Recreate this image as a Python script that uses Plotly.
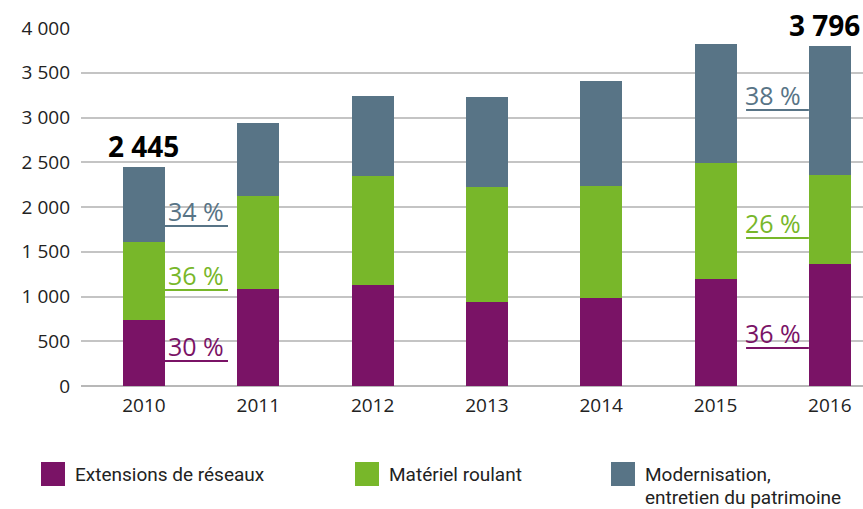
"""Investissements par categorie, 2010-2016 (barres empilees)."""

import plotly.graph_objects as go

years = [2010, 2011, 2012, 2013, 2014, 2015, 2016]
extensions = [733, 1084, 1128, 939, 983, 1196, 1367]
materiel = [880, 1039, 1218, 1284, 1252, 1296, 987]
modernisation = [832, 816, 894, 1006, 1173, 1329, 1442]

series_names = ["Extensions de réseaux", "Matériel roulant", "Modernisation,"]
legend_second_line = "entretien du patrimoine"
colors = ["#7a1366", "#78b72a", "#587486"]

total_labels = {2010: "2 445", 2016: "3 796"}
# (annee, serie, texte) pour les parts en %
share_labels = [
    (2010, 2, "34 %"), (2010, 1, "36 %"), (2010, 0, "30 %"),
    (2016, 2, "38 %"), (2016, 1, "26 %"), (2016, 0, "36 %"),
]

FONT = "Open Sans"
LEGEND_FONT = "Roboto, sans-serif"
W, H = 863, 509
L, R, T, B = 81, 0, 28, 123
BAR_W = 0.367

fig = go.Figure()
for name, vals, col in zip(series_names, [extensions, materiel, modernisation], colors):
    fig.add_trace(go.Bar(
        x=years, y=vals, name=name, marker_color=col,
        marker_line_width=0, width=BAR_W, showlegend=False,
    ))

totals = [a + b + c for a, b, c in zip(extensions, materiel, modernisation)]
for yr, txt in total_labels.items():
    i = years.index(yr)
    fig.add_annotation(
        x=yr, y=totals[i], text=f"<b>{txt}</b>", showarrow=False,
        yanchor="bottom", yshift=0, xshift=-5 if yr == 2016 else 0,
        font=dict(family=FONT, size=28, color="#000000"),
    )

# position verticale des lignes de soulignement (unites de l'axe)
line_y = {(2010, 2): 1788, (2010, 1): 1073, (2010, 0): 279,
          (2016, 2): 3084, (2016, 1): 1654, (2016, 0): 425}
for yr, s, txt in share_labels:
    if yr == years[0]:
        x0, x1 = yr + BAR_W / 2, yr + 0.735
    else:
        x0, x1 = yr - 0.733, yr - BAR_W / 2
    y = line_y[(yr, s)]
    fig.add_shape(type="line", x0=x0, x1=x1, y0=y, y1=y,
                  line=dict(color=colors[s], width=2), layer="above")
    fig.add_annotation(
        x=x0, y=y, text=txt, showarrow=False, xanchor="left", yanchor="bottom",
        xshift=1 if yr == years[0] else -3, yshift=-4,
        font=dict(family=FONT, size=25, color=colors[s]),
    )

# legende manuelle (coordonnees pixel -> paper)
pw, ph = W - L - R, H - T - B


def px(x):
    return (x - L) / pw


def py(y):
    return (H - B - y) / ph


legend_x = [41, 355, 611]
for xs, name, col in zip(legend_x, series_names, colors):
    fig.add_shape(type="rect", xref="paper", yref="paper",
                  x0=px(xs), x1=px(xs + 24), y0=py(462), y1=py(486),
                  fillcolor=col, line_width=0)
    fig.add_annotation(xref="paper", yref="paper", x=px(xs + 32), y=py(474),
                       text=name, showarrow=False, xanchor="left", yanchor="middle",
                       font=dict(family=LEGEND_FONT, size=19, color="#222222"))
fig.add_annotation(xref="paper", yref="paper", x=px(legend_x[2] + 32), y=py(497),
                   text=legend_second_line, showarrow=False, xanchor="left",
                   yanchor="middle", font=dict(family=LEGEND_FONT, size=19, color="#222222"))

fig.update_layout(
    barmode="stack",
    width=W, height=H,
    margin=dict(l=L, r=R, t=T, b=B),
    plot_bgcolor="white", paper_bgcolor="white",
    separators=", ",
    font=dict(family=FONT, size=19, color="#222222"),
    xaxis=dict(range=[2009.449, 2016.29], tickvals=years, showgrid=False,
               ticks="", showline=False, zeroline=False, fixedrange=True,
               ticklabelstandoff=6),
    yaxis=dict(range=[0, 4000], dtick=500, separatethousands=True,
               showgrid=True, gridcolor="#c4c4c4", gridwidth=1.5,
               zeroline=True, zerolinecolor="#b8b8b8", zerolinewidth=2,
               ticks="", ticklabelstandoff=10, fixedrange=True),
)

fig.write_html("out.html", config={"displayModeBar": False},
               post_script="document.body.style.margin='0';")
